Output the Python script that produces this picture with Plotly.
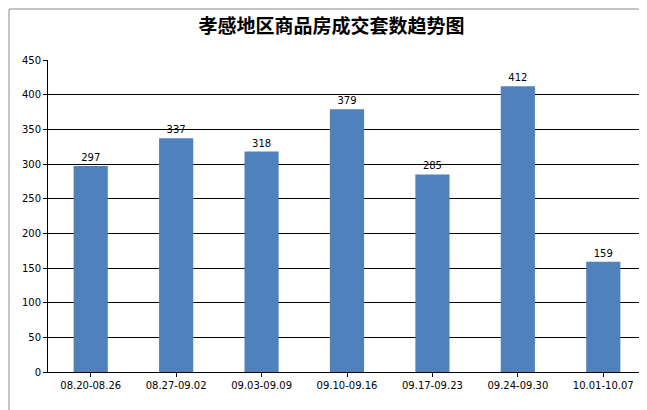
import plotly.graph_objects as go

weeks = ["08.20-08.26", "08.27-09.02", "09.03-09.09", "09.10-09.16",
         "09.17-09.23", "09.24-09.30", "10.01-10.07"]
deals = [297, 337, 318, 379, 285, 412, 159]
y_ticks = list(range(0, 451, 50))

L, R, T, B = 40, 9, 52, 46
pw, ph = 647 - L - R, 410 - T - B

fig = go.Figure(go.Bar(
    x=weeks, y=deals, text=deals, textposition="outside",
    marker=dict(color="#4F81BD", line=dict(width=0)),
    textfont=dict(size=10, color="black", family="DejaVu Sans"),
    cliponaxis=False,
))

fig.update_layout(
    width=647, height=410,
    margin=dict(l=L, r=R, t=T, b=B),
    paper_bgcolor="white", plot_bgcolor="white",
    title=dict(text="<b>孝感地区商品房成交套数趋势图</b>", x=0.5, xanchor="center",
               y=0.955, yanchor="middle",
               font=dict(size=19, family="Noto Sans CJK SC", color="black")),
    bargap=0.6, showlegend=False,
    font=dict(family="DejaVu Sans", size=10, color="black"),
    shapes=[dict(type="rect", xref="paper", yref="paper",
                 x0=(1 - L) / pw, x1=1 + (R - 2) / pw,
                 y0=-(B - 2) / ph, y1=1 + (T - 1) / ph,
                 line=dict(color="#8c8c8c", width=1))],
)
fig.update_xaxes(showline=True, linecolor="black", ticks="outside", tickcolor="black",
                 ticklen=4, tickfont=dict(size=10))
fig.update_yaxes(range=[0, 450], tickvals=y_ticks, showgrid=True, gridcolor="black",
                 gridwidth=1, showline=True, linecolor="black", ticks="outside",
                 tickcolor="black", ticklen=4, zeroline=False, tickfont=dict(size=10))

fig.write_html("out.html")
